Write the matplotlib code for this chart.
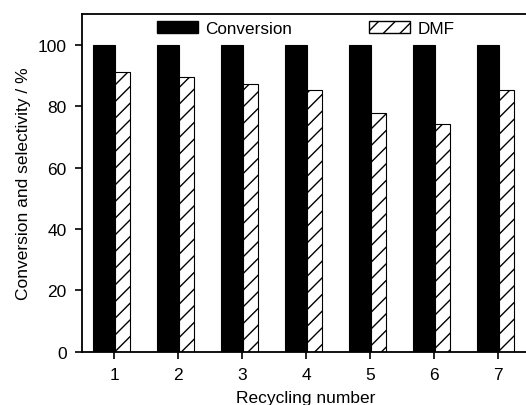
import numpy as np
import matplotlib.pyplot as plt
from matplotlib.patches import Patch

plt.rcParams['font.family'] = ['Liberation Sans', 'DejaVu Sans']
plt.rcParams['hatch.linewidth'] = 1.0

cycles = [1, 2, 3, 4, 5, 6, 7]
conversion = [100, 100, 100, 100, 100, 100, 100]
dmf = [91.1, 89.4, 87.2, 85.2, 77.8, 74.1, 85.2]

x = np.array(cycles)

fig = plt.figure(figsize=(5.26, 4.06), dpi=100)
ax = fig.add_axes([0.156, 0.131, 0.852, 0.832])

ax.bar(x - 0.33, conversion, width=0.34, align='edge', color='black',
       edgecolor='black', linewidth=0.8)
ax.bar(x + 0.01, dmf, width=0.235, align='edge', color='white',
       edgecolor='black', linewidth=0.8, hatch='//')

ax.set_xlim(0.5, 7.5)
ax.set_ylim(0, 110)
ax.set_xticks(cycles)
ax.set_yticks([0, 20, 40, 60, 80, 100])
ax.tick_params(direction='out', length=5, width=1.2, labelsize=12.5, pad=6)

for s in ax.spines.values():
    s.set_linewidth(1.3)

ax.set_xlabel('Recycling number', fontsize=12.5, labelpad=6)
ax.set_ylabel('Conversion and selectivity / %', fontsize=12.5, labelpad=5)

handles = [Patch(facecolor='black', edgecolor='black', label='Conversion'),
           Patch(facecolor='white', edgecolor='black', hatch='//', label='DMF')]
ax.legend(handles=handles, ncol=2, loc='center left',
          bbox_to_anchor=(0.167, 0.956), frameon=False,
          handlelength=2.4, handleheight=0.7, handletextpad=0.45,
          columnspacing=4.5, borderpad=0, borderaxespad=0, fontsize=12.3)

fig.savefig('out.png', dpi=100)
